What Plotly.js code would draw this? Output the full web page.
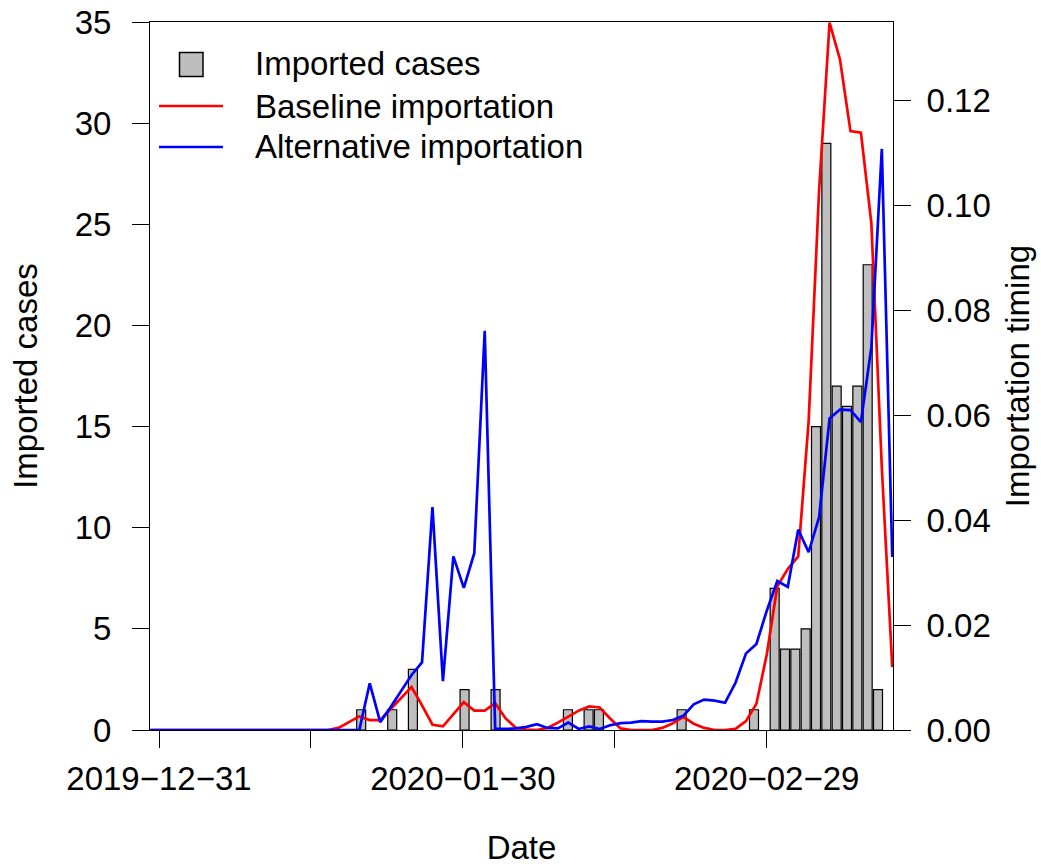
<!DOCTYPE html>
<html><head><meta charset="utf-8">
<script src="https://cdn.plot.ly/plotly-3.0.1.min.js"></script>
<style>html,body{margin:0;padding:0;background:#fff}</style>
</head><body>
<div id="chart" style="width:1041px;height:867px"></div>
<script>
// ---------------- data ----------------
const startDate = '2019-12-31';
const caseDates = ['2020-01-20','2020-01-23','2020-01-25','2020-01-30','2020-02-02',
  '2020-02-09','2020-02-11','2020-02-12','2020-02-20','2020-02-27','2020-02-29',
  '2020-03-01','2020-03-02','2020-03-03','2020-03-04','2020-03-05','2020-03-06',
  '2020-03-07','2020-03-08','2020-03-09','2020-03-10'];
const caseCounts = [1,1,3,2,2,1,1,1,1,1,7,4,4,5,15,29,17,16,17,23,2];

// daily values from 2019-12-31 to 2020-03-11
const baselineImportation = [
  0,0,0,0,0,0,0,0,0,0,
  0,0,0,0,0,0,0,0,0.0004,0.0015,
  0.0026,0.0019,0.0019,0.0040,0.0060,0.0082,0.0047,0.0010,0.0007,0.0030,
  0.0053,0.0037,0.0037,0.0051,0.0022,0.0004,0.0001,0,0.0004,0.0014,
  0.0026,0.0037,0.0045,0.0043,0.0022,0.0003,0,0,0,0.0004,
  0.0013,0.0025,0.0012,0.0004,0,0,0.0002,0.0017,0.0050,0.0145,
  0.0274,0.0307,0.0331,0.0590,0.1030,0.1349,0.1278,0.1142,0.1139,0.0966,
  0.0500,0.0120];
const alternativeImportation = [
  0,0,0,0,0,0,0,0,0,0,
  0,0,0,0,0,0,0,0,0,0,
  0,0.0089,0.0015,0.0044,0.0075,0.0105,0.0129,0.0425,0.0093,0.0331,
  0.0271,0.0337,0.0761,0.0002,0.0002,0.0003,0.0006,0.0011,0.0004,0.0003,
  0.0014,0.0002,0.0007,0.0002,0.0009,0.0013,0.0014,0.0017,0.0016,0.0016,
  0.0019,0.0027,0.0049,0.0058,0.0056,0.0052,0.0090,0.0146,0.0164,0.0228,
  0.0284,0.0273,0.0382,0.0339,0.0406,0.0594,0.0611,0.0610,0.0587,0.0730,
  0.1108,0.0330];

const tickDates = ['2019-12-31','2020-01-15','2020-01-30','2020-02-14','2020-02-29'];
const tickLabels = ['2019\u221212\u221231','','2020\u221201\u221230','','2020\u221202\u221229'];
const leftTicks = [0,5,10,15,20,25,30,35];
const rightTicks = [0,0.02,0.04,0.06,0.08,0.10,0.12];
const legendLabels = ['Imported cases','Baseline importation','Alternative importation'];

// ---------------- helpers ----------------
const DAY = 86400000;
const T0 = Date.parse(startDate + 'T00:00:00Z');
const lineDates = baselineImportation.map((_, i) =>
  new Date(T0 + i * DAY).toISOString().slice(0, 10));

const FONT = 'Liberation Sans, Arial, Helvetica, sans-serif';
const FS = 33;
const L = 150, R = 893, TOP = 22, BOT = 730;
const px2x = p => (p - L) / (R - L);
const px2y = p => (BOT - p) / (BOT - TOP);

const traces = [
  // empty trace that anchors the date tick axis (draws nothing)
  {type:'scatter', mode:'markers', x:[], y:[], xaxis:'x', yaxis:'y', hoverinfo:'skip', showlegend:false},
  {type:'bar', x:caseDates, y:caseCounts, xaxis:'x2', yaxis:'y',
   width: 0.87 * DAY, name: legendLabels[0],
   marker:{color:'#BEBEBE', line:{color:'#000', width:1.2}}, hoverinfo:'x+y'},
  {type:'scatter', mode:'lines', x:lineDates, y:baselineImportation, xaxis:'x3', yaxis:'y2',
   name: legendLabels[1], line:{color:'#FF0000', width:2.7}},
  {type:'scatter', mode:'lines', x:lineDates, y:alternativeImportation, xaxis:'x3', yaxis:'y2',
   name: legendLabels[2], line:{color:'#0000FF', width:2.7}}
];

const axisCommon = {ticks:'outside', ticklen:17, tickwidth:1, tickcolor:'#000',
  showline:true, linecolor:'#000', linewidth:1, showgrid:false, zeroline:false,
  tickfont:{family:FONT, size:FS, color:'#000'}};

const layout = {
  width:1041, height:867,
  margin:{l:L, r:1041-R, t:TOP, b:867-BOT, pad:0},
  paper_bgcolor:'#fff', plot_bgcolor:'rgba(0,0,0,0)',
  font:{family:FONT, size:FS, color:'#000'},
  showlegend:false, bargap:0,
  xaxis: Object.assign({}, axisCommon, {
    type:'date', range:[T0 - 0.889*DAY, T0 + 72.47*DAY], anchor:'y',
    tickmode:'array', tickvals:tickDates, ticktext:tickLabels, mirror:true,
    ticklabelstandoff: 2,
    title:{text:'Date', font:{family:FONT, size:FS}, standoff: 40}}),
  xaxis2: {type:'date', overlaying:'x', range:[T0 - 0.435*DAY, T0 + 71.45*DAY], visible:false},
  xaxis3: {type:'date', overlaying:'x', range:[T0 - 0.03*DAY, T0 + 71.07*DAY], visible:false},
  yaxis: Object.assign({}, axisCommon, {
    range:[0,35], tickmode:'array', tickvals:leftTicks, mirror:true, anchor:'x',
    ticklabelstandoff: 14,
    title:{text:'Imported cases', font:{family:FONT, size:FS}, standoff: 27}}),
  yaxis2: Object.assign({}, axisCommon, {
    overlaying:'y', side:'right', range:[0,0.135], tickmode:'array',
    tickvals:rightTicks, tickformat:'.2f', ticklabelstandoff: 9,
    title:{text:'Importation timing', font:{family:FONT, size:FS}, standoff: 16}}),
  shapes:[
    {type:'rect', xref:'paper', yref:'paper', x0:px2x(179.5), x1:px2x(203), y0:px2y(76.5), y1:px2y(52.5),
     fillcolor:'#BEBEBE', line:{color:'#000', width:1.5}},
    {type:'line', xref:'paper', yref:'paper', x0:px2x(159), x1:px2x(223), y0:px2y(106), y1:px2y(106),
     line:{color:'#FF0000', width:2.7}},
    {type:'line', xref:'paper', yref:'paper', x0:px2x(159), x1:px2x(223), y0:px2y(147), y1:px2y(147),
     line:{color:'#0000FF', width:2.7}}
  ],
  annotations: legendLabels.map((t, i) => ({
    text:t, xref:'paper', yref:'paper', x:px2x(253), y:px2y([64,106,146][i]),
    xanchor:'left', yanchor:'middle', showarrow:false,
    font:{family:FONT, size:FS, color:'#000'}}))
};

Plotly.newPlot('chart', traces, layout, {displayModeBar:false, staticPlot:true});
</script>
</body></html>
